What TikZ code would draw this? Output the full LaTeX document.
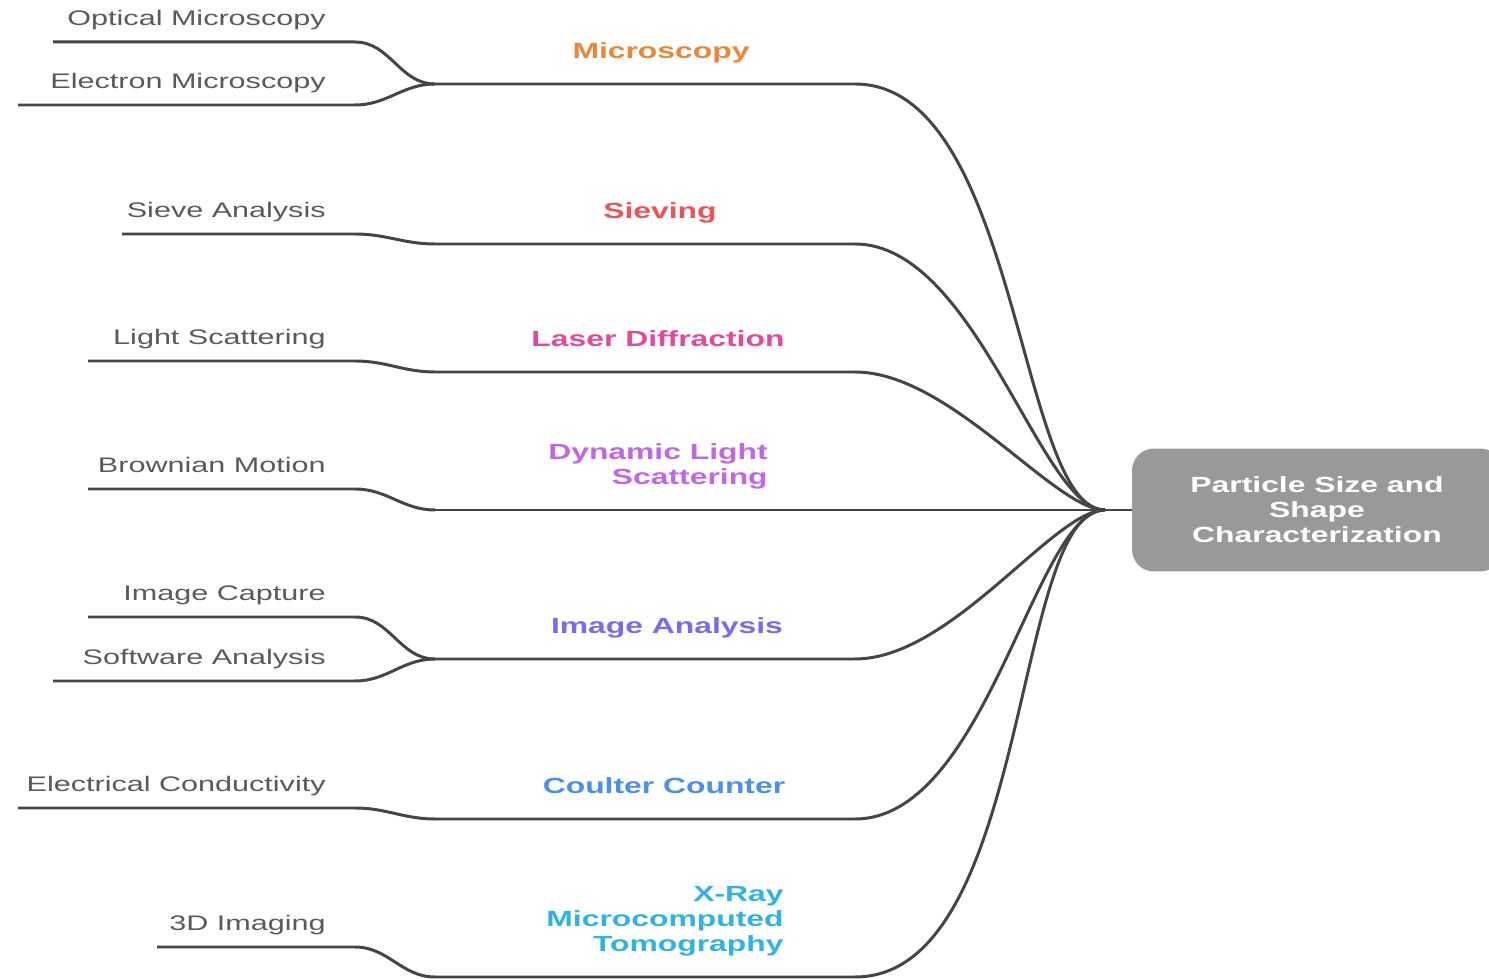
\documentclass[tikz,border=0pt]{standalone}
\usepackage{fontspec}
\setmainfont[FakeStretch=1.45]{Liberation Sans}
\usepackage{xcolor}
\usetikzlibrary{positioning, calc}

\definecolor{linegray}{HTML}{454545}
\definecolor{leafgray}{HTML}{5A5A5A}
\definecolor{rootgray}{HTML}{999999}
\definecolor{micorange}{HTML}{E8873A}
\definecolor{sievered}{HTML}{EA5455}
\definecolor{laserpink}{HTML}{E04A9E}
\definecolor{dlspurple}{HTML}{C066E8}
\definecolor{imgindigo}{HTML}{7A6AEC}
\definecolor{coulblue}{HTML}{4A8FEA}
\definecolor{xraycyan}{HTML}{30B3E3}

\tikzset{
  link/.style={draw=linegray, line width=1.7pt},
  fan/.style={out=0, in=180, out looseness=0.85, in looseness=0.45},
  leaf/.style={anchor=south east, inner sep=0pt, text depth=0pt, text=leafgray,
    font=\fontsize{12}{14.2}\selectfont},
  branch/.style={anchor=south, inner sep=0pt, text depth=0pt, align=right,
    font=\fontsize{12.5}{14.2}\selectfont\bfseries},
  rootbox/.style={fill=rootgray, rounded corners=0.44cm, text=white, align=center,
    minimum width=7.4cm, minimum height=2.46cm,
    font=\fontsize{12.5}{14.2}\selectfont\bfseries}
}

\begin{document}
\begin{tikzpicture}[x=0.02cm, y=-0.02cm]
    \useasboundingbox (0,0) rectangle (1489,979);

    % Root
    \node[rootbox] (root) at (1317,510) {Particle Size and\\Shape\\Characterization};
    \coordinate (hub) at (1105,510);
    \draw[link] (hub) -- (root.west);

    % Microscopy
    \coordinate (mic-in) at (435,84);
    \coordinate (mic-out) at (855,84);
    \node[branch, text=micorange] (mic) at (661,59) {Microscopy};
    \draw[link] (mic-in) -- (mic-out) to[fan] (hub);

    \coordinate (opt-start) at (53,42);
    \coordinate (opt-end) at (355,42);
    \node[leaf] (opt) at (326,26) {Optical Microscopy};
    \draw[link] (opt-start) -- (opt-end) to[out=0, in=180] (mic-in);

    \coordinate (ele-start) at (18,105);
    \coordinate (ele-end) at (355,105);
    \node[leaf] (ele) at (326,89) {Electron Microscopy};
    \draw[link] (ele-start) -- (ele-end) to[out=0, in=180] (mic-in);

    % Sieving
    \coordinate (sie-in) at (435,244);
    \coordinate (sie-out) at (855,244);
    \node[branch, text=sievered] (sie) at (660,219) {Sieving};
    \draw[link] (sie-in) -- (sie-out) to[fan] (hub);

    \coordinate (sva-start) at (122,234);
    \coordinate (sva-end) at (355,234);
    \node[leaf] (sva) at (326,218) {Sieve Analysis};
    \draw[link] (sva-start) -- (sva-end) to[out=0, in=180] (sie-in);

    % Laser Diffraction
    \coordinate (las-in) at (435,372);
    \coordinate (las-out) at (855,372);
    \node[branch, text=laserpink] (las) at (658,347) {Laser Diffraction};
    \draw[link] (las-in) -- (las-out) to[fan] (hub);

    \coordinate (lsc-start) at (88,361);
    \coordinate (lsc-end) at (355,361);
    \node[leaf] (lsc) at (326,345) {Light Scattering};
    \draw[link] (lsc-start) -- (lsc-end) to[out=0, in=180] (las-in);

    % Dynamic Light Scattering
    \coordinate (dls-in) at (435,510);
    \node[branch, text=dlspurple] (dls) at (658,485) {Dynamic Light\\Scattering};
    \draw[link] (dls-in) -- (hub);

    \coordinate (brm-start) at (88,489);
    \coordinate (brm-end) at (355,489);
    \node[leaf] (brm) at (326,473) {Brownian Motion};
    \draw[link] (brm-start) -- (brm-end) to[out=0, in=180] (dls-in);

    % Image Analysis
    \coordinate (img-in) at (435,659);
    \coordinate (img-out) at (855,659);
    \node[branch, text=imgindigo] (img) at (667,634) {Image Analysis};
    \draw[link] (img-in) -- (img-out) to[fan] (hub);

    \coordinate (cap-start) at (88,617);
    \coordinate (cap-end) at (355,617);
    \node[leaf] (cap) at (326,601) {Image Capture};
    \draw[link] (cap-start) -- (cap-end) to[out=0, in=180] (img-in);

    \coordinate (sof-start) at (53,681);
    \coordinate (sof-end) at (355,681);
    \node[leaf] (sof) at (326,665) {Software Analysis};
    \draw[link] (sof-start) -- (sof-end) to[out=0, in=180] (img-in);

    % Coulter Counter
    \coordinate (cou-in) at (435,819);
    \coordinate (cou-out) at (855,819);
    \node[branch, text=coulblue] (cou) at (664,794) {Coulter Counter};
    \draw[link] (cou-in) -- (cou-out) to[fan] (hub);

    \coordinate (elc-start) at (18,808);
    \coordinate (elc-end) at (355,808);
    \node[leaf] (elc) at (326,792) {Electrical Conductivity};
    \draw[link] (elc-start) -- (elc-end) to[out=0, in=180] (cou-in);

    % X-Ray Microcomputed Tomography
    \coordinate (xct-in) at (435,977);
    \coordinate (xct-out) at (855,977);
    \node[branch, text=xraycyan] (xct) at (665,952) {X-Ray\\Microcomputed\\Tomography};
    \draw[link] (xct-in) -- (xct-out) to[fan] (hub);

    \coordinate (thd-start) at (157,947);
    \coordinate (thd-end) at (355,947);
    \node[leaf] (thd) at (326,931) {3D Imaging};
    \draw[link] (thd-start) -- (thd-end) to[out=0, in=180] (xct-in);

\end{tikzpicture}
\end{document}
